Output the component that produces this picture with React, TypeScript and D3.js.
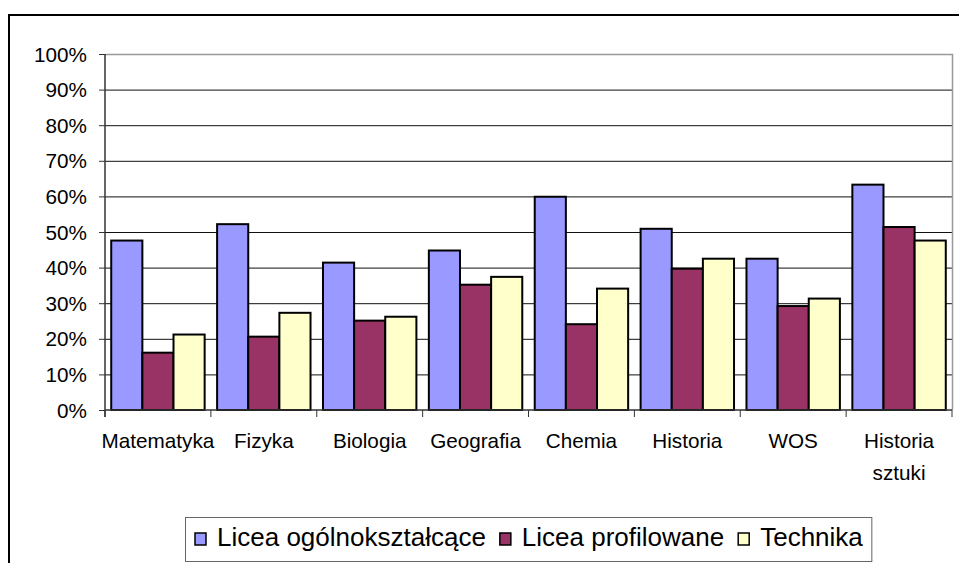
import React, { useEffect, useRef } from 'react';
import * as d3 from 'd3';

const categories = ['Matematyka', 'Fizyka', 'Biologia', 'Geografia', 'Chemia', 'Historia', 'WOS', 'Historia sztuki'];
const seriesNames = ['Licea ogólnokształcące', 'Licea profilowane', 'Technika'];
const liceaOgolne = [47.6, 52.2, 41.4, 44.8, 59.9, 50.9, 42.5, 63.3];
const liceaProfilowane = [16.1, 20.6, 25.1, 35.2, 24.1, 39.7, 29.2, 51.4];
const technika = [21.2, 27.3, 26.2, 37.4, 34.1, 42.5, 31.3, 47.6];
const yTicks = [0, 10, 20, 30, 40, 50, 60, 70, 80, 90, 100];
const colors = ['#9999FF', '#993366', '#FFFFCC'];

const App = () => {
  const ref = useRef<SVGSVGElement>(null);

  useEffect(() => {
    if (!ref.current) return;
    const svg = d3.select(ref.current);
    svg.selectAll('*').remove();

    const font = '"Liberation Sans", Arial, sans-serif';
    const left = 105, right = 952, top = 54, bottom = 410;

    // outer chart frame (runs past the window)
    svg.append('rect')
      .attr('x', 9).attr('y', 15)
      .attr('width', 1000).attr('height', 600)
      .attr('fill', 'white').attr('stroke', 'black').attr('stroke-width', 2);

    const x = d3.scaleBand().domain(categories).range([left, right]).padding(0);
    const y = d3.scaleLinear().domain([0, 100]).range([bottom, top]);
    const bw = x.bandwidth();
    const gap = bw - 3 * (bw / 3.4);
    const inner = d3.scaleBand().domain(seriesNames).range([gap / 2, bw - gap / 2]);

    // gridlines
    svg.append('g').selectAll('line')
      .data(yTicks.filter(d => d > 0 && d < 100))
      .join('line')
      .attr('x1', left).attr('x2', right)
      .attr('y1', d => y(d) + 0.5).attr('y2', d => y(d) + 0.5)
      .attr('stroke', '#111').attr('stroke-width', 1);

    // plot area border top / right
    svg.append('path')
      .attr('d', `M${left},${y(100) + 0.5}H${right + 0.5}V${bottom}`)
      .attr('fill', 'none').attr('stroke', '#999').attr('stroke-width', 1.5);

    const data = [liceaOgolne, liceaProfilowane, technika];
    seriesNames.forEach((name, si) => {
      svg.append('g').selectAll('rect')
        .data(categories.map((c, i) => ({ c, v: data[si][i] })))
        .join('rect')
        .attr('x', d => (x(d.c) as number) + (inner(name) as number))
        .attr('y', d => y(d.v))
        .attr('width', inner.bandwidth())
        .attr('height', d => bottom - y(d.v))
        .attr('fill', colors[si])
        .attr('stroke', 'black')
        .attr('stroke-width', 2);
    });

    // y axis
    const ya = svg.append('g');
    ya.append('line').attr('x1', left).attr('x2', left).attr('y1', top).attr('y2', bottom + 7)
      .attr('stroke', '#333').attr('stroke-width', 1.5);
    ya.selectAll('line.t').data(yTicks).join('line').attr('class', 't')
      .attr('x1', left - 6).attr('x2', left)
      .attr('y1', d => y(d) + 0.5).attr('y2', d => y(d) + 0.5)
      .attr('stroke', '#333').attr('stroke-width', 1);
    ya.selectAll('text').data(yTicks).join('text')
      .attr('x', 87).attr('y', d => y(d) + 7.5)
      .attr('text-anchor', 'end')
      .attr('font-family', font).attr('font-size', 20.7)
      .attr('fill', 'black')
      .text(d => `${d}%`);

    // x axis
    const xa = svg.append('g');
    xa.append('line').attr('x1', left).attr('x2', right).attr('y1', bottom).attr('y2', bottom)
      .attr('stroke', '#333').attr('stroke-width', 1.5);
    xa.selectAll('line.t').data([...categories.map(c => x(c) as number), right]).join('line').attr('class', 't')
      .attr('x1', d => d).attr('x2', d => d)
      .attr('y1', bottom).attr('y2', bottom + 7)
      .attr('stroke', '#333').attr('stroke-width', 1);
    const labels = xa.selectAll('text').data(categories).join('text')
      .attr('text-anchor', 'middle')
      .attr('font-family', font).attr('font-size', 20.7)
      .attr('fill', 'black');
    labels.each(function (d) {
      const words = d === 'Historia sztuki' ? ['Historia', 'sztuki'] : [d];
      const cx = (x(d) as number) + bw / 2;
      words.forEach((w, i) => {
        d3.select(this).append('tspan').attr('x', cx).attr('y', 448 + i * 32).text(w);
      });
    });

    // legend
    const lg = svg.append('g');
    const box = lg.append('rect')
      .attr('x', 185.5).attr('y', 517.5).attr('height', 44)
      .attr('fill', 'white').attr('stroke', '#666').attr('stroke-width', 1);
    let cx = 195;
    seriesNames.forEach((name, i) => {
      lg.append('rect')
        .attr('x', cx).attr('y', 533).attr('width', 11).attr('height', 12)
        .attr('fill', colors[i]).attr('stroke', 'black').attr('stroke-width', 1.5);
      const t = lg.append('text')
        .attr('x', cx + 22).attr('y', 546)
        .attr('font-family', font).attr('font-size', 26)
        .attr('fill', 'black').text(name);
      const w = (t.node() as SVGTextElement).getComputedTextLength();
      cx = cx + 22 + w + 14;
    });
    box.attr('width', cx - 14 + 9 - 185.5);
  }, []);

  return (
    <svg ref={ref} width={959} height={563}
      style={{ position: 'absolute', left: 0, top: 0, background: 'white' }} />
  );
};

export default App;
